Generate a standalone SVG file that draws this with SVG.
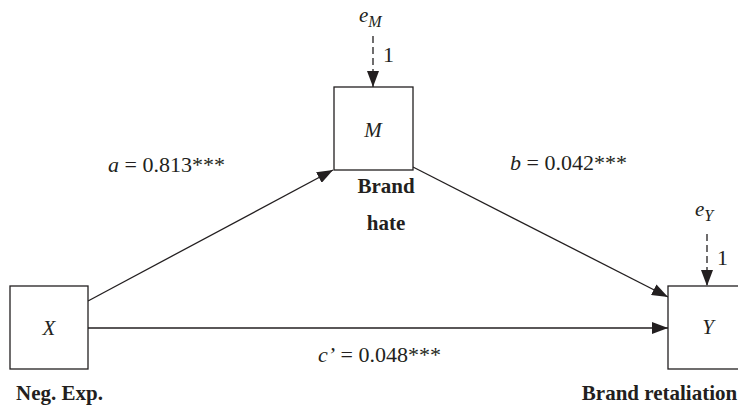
<svg xmlns="http://www.w3.org/2000/svg" width="738" height="406" viewBox="0 0 738 406">
<style>
text{font-family:'Liberation Serif','Times New Roman',Times,serif;fill:#231f20}
.box{fill:#fff;stroke:#231f20;stroke-width:1.3}
.var{font-style:italic;font-size:21px}
.lbl{font-weight:bold;font-size:21px}
.coef{font-size:22px}
.ln{stroke:#231f20;stroke-width:1.3;fill:none}
.dash{stroke:#231f20;stroke-width:1.3;fill:none;stroke-dasharray:7,4}
</style>
<defs>
<marker id="ah" viewBox="0 0 16 12" refX="16" refY="6" markerWidth="16" markerHeight="12" markerUnits="userSpaceOnUse" orient="auto">
<path d="M0,0 L16,6 L0,12 Z" fill="#231f20"/>
</marker>
</defs>
<g id="connectors">
<line class="ln" x1="88" y1="301" x2="333" y2="170" marker-end="url(#ah)"/>
<line class="ln" x1="413" y1="167" x2="668" y2="297" marker-end="url(#ah)"/>
<line class="ln" x1="88" y1="328" x2="668" y2="328" marker-end="url(#ah)"/>
<line class="dash" x1="373" y1="36" x2="373" y2="87" marker-end="url(#ah)"/>
<line class="dash" x1="707" y1="234" x2="707" y2="286" marker-end="url(#ah)"/>
</g>
<g id="node-X">
<rect class="box" x="10" y="286" width="78" height="83"/>
<text class="var" x="49" y="335" text-anchor="middle">X</text>
<text class="lbl" x="59.5" y="400" text-anchor="middle">Neg. Exp.</text>
</g>
<g id="node-M">
<rect class="box" x="334" y="87" width="79" height="83"/>
<text class="var" x="373" y="137" text-anchor="middle">M</text>
<text class="lbl" x="386" y="193" text-anchor="middle">Brand</text>
<text class="lbl" x="386" y="230" text-anchor="middle">hate</text>
</g>
<g id="node-Y">
<rect class="box" x="668" y="286" width="80" height="83"/>
<text class="var" x="708" y="334" text-anchor="middle">Y</text>
<text class="lbl" x="659.5" y="400" text-anchor="middle">Brand retaliation</text>
</g>
<g id="node-eM">
<text class="var" x="359" y="22">e<tspan font-size="16" dy="5">M</tspan></text>
<text class="coef" x="383" y="62" font-size="19">1</text>
</g>
<g id="node-eY">
<text class="var" x="695" y="216">e<tspan font-size="16" dy="5">Y</tspan></text>
<text class="coef" x="717" y="265" font-size="19">1</text>
</g>
<g id="labels">
<text class="coef" x="108" y="172"><tspan font-style="italic">a</tspan> = 0.813***</text>
<text class="coef" x="510" y="170"><tspan font-style="italic">b</tspan> = 0.042***</text>
<text class="coef" x="318" y="362"><tspan font-style="italic">c’</tspan> = 0.048***</text>
</g>
</svg>
